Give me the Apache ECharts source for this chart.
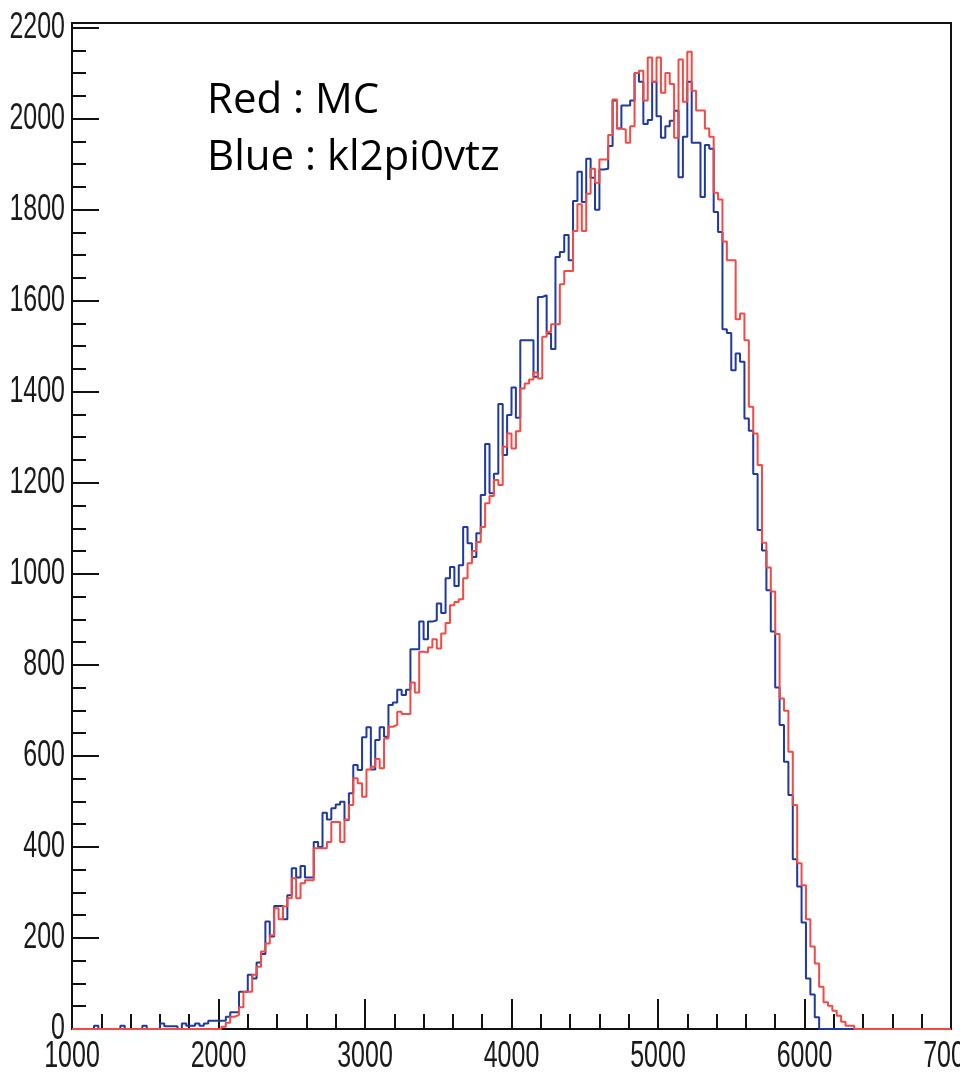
<!DOCTYPE html>
<html>
<head>
<meta charset="utf-8">
<title>histogram</title>
<script src="https://cdn.jsdelivr.net/npm/echarts@6/dist/echarts.min.js"></script>
<style>
  html, body { margin: 0; padding: 0; background: #fff; }
  #main { width: 960px; height: 1077px; }
</style>
</head>
<body>
<div id="main"></div>
<script>
// bins: 200 bins of width 30 from 1000 to 7000
const binStart = 1000
const binWidth = 30
const xTicks = [1000, 2000, 3000, 4000, 5000, 6000, 7000]
const yTicks = [0, 200, 400, 600, 800, 1000, 1200, 1400, 1600, 1800, 2000, 2200]

// Blue : kl2pi0vtz
const blueCounts = [
  0, 0, 0, 0, 0, 7, 0, 0, 0, 0,
  0, 7, 0, 0, 0, 0, 7, 0, 0, 0,
  12, 6, 6, 6, 0, 12, 7, 7, 12, 7,
  12, 18, 18, 18, 18, 27, 37, 37, 82, 82,
  119, 111, 146, 165, 236, 203, 270, 270, 241, 294,
  353, 333, 358, 333, 333, 411, 400, 475, 460, 485,
  493, 499, 459, 518, 580, 569, 641, 663, 570, 635,
  663, 642, 712, 717, 745, 734, 745, 834, 834, 895,
  856, 895, 898, 935, 914, 990, 1015, 973, 1019, 1103,
  1067, 1037, 1089, 1173, 1285, 1177, 1220, 1373, 1261, 1349,
  1409, 1343, 1513, 1513, 1513, 1433, 1608, 1612, 1528, 1494,
  1696, 1707, 1744, 1689, 1819, 1883, 1817, 1912, 1870, 1800,
  1888, 1890, 1940, 2040, 1978, 2029, 2029, 2040, 2100, 2081,
  1988, 1997, 2081, 2005, 1958, 1983, 1995, 2017, 1871, 1960,
  2081, 1947, 1947, 1828, 1942, 1934, 1795, 1751, 1537, 1529,
  1447, 1484, 1466, 1341, 1314, 1219, 1096, 1051, 964, 873,
  750, 668, 587, 514, 373, 313, 234, 111, 76, 26,
  0, 0, 0, 0, 0, 0, 0, 0, 0, 0,
  0, 0, 0, 0, 0, 0, 0, 0, 0, 0,
  0, 0, 0, 0, 0, 0, 0, 0, 0, 0
]

// Red : MC
const redCounts = [
  0, 0, 0, 0, 0, 0, 0, 0, 0, 0,
  0, 0, 0, 0, 0, 0, 0, 0, 0, 0,
  0, 0, 0, 0, 0, 0, 0, 0, 0, 0,
  0, 0, 0, 0, 5, 14, 27, 31, 48, 82,
  82, 119, 137, 170, 188, 206, 265, 241, 269, 287,
  331, 287, 320, 327, 327, 397, 397, 397, 411, 455,
  455, 411, 460, 492, 551, 540, 510, 570, 576, 593,
  573, 638, 664, 668, 697, 692, 692, 761, 739, 829,
  827, 838, 856, 836, 869, 892, 931, 938, 944, 990,
  1023, 1050, 1070, 1103, 1155, 1171, 1206, 1195, 1279, 1308,
  1275, 1313, 1407, 1418, 1427, 1442, 1429, 1521, 1532, 1548,
  1548, 1636, 1665, 1665, 1753, 1812, 1753, 1835, 1890, 1859,
  1910, 1910, 1964, 2042, 1978, 1976, 1947, 1983, 2100, 2105,
  2040, 2134, 2081, 2134, 2057, 2100, 2076, 1958, 2130, 2037,
  2147, 2061, 2018, 2018, 1978, 1960, 1837, 1822, 1730, 1689,
  1689, 1559, 1572, 1513, 1367, 1308, 1239, 1068, 1014, 961,
  868, 726, 699, 609, 492, 364, 316, 241, 181, 144,
  93, 59, 51, 40, 29, 16, 7, 7, 0, 0,
  0, 0, 0, 0, 0, 0, 0, 0, 0, 0,
  0, 0, 0, 0, 0, 0, 0, 0, 0, 0
]

const legendLines = ['Red : MC', 'Blue : kl2pi0vtz']

// ROOT style tick labels: tall narrow digits
const labelFont = '25px "Liberation Sans", Arial, sans-serif'
const labelStretch = 1.5

// histogram -> step points (left edge of every bin, plus the closing right edge)
function toSteps(counts) {
  const pts = counts.map((v, i) => [binStart + i * binWidth, v])
  pts.push([binStart + counts.length * binWidth, counts[counts.length - 1]])
  return pts
}

const chart = echarts.init(document.getElementById('main'))

chart.setOption({
  animation: false,
  backgroundColor: '#fff',
  grid: {
    left: 72,
    right: 9,
    top: 23,
    bottom: 48,
    show: true,
    borderColor: '#111',
    borderWidth: 2,
    containLabel: false,
    outerBoundsMode: 'none'
  },
  xAxis: {
    type: 'value',
    min: xTicks[0],
    max: xTicks[xTicks.length - 1],
    interval: 1000,
    axisLine: { show: true, lineStyle: { color: '#111', width: 2 } },
    axisTick: { show: true, inside: true, length: 30, lineStyle: { color: '#111', width: 2 } },
    minorTick: { show: true, splitNumber: 5, length: 15, lineStyle: { color: '#111', width: 2 } },
    splitLine: { show: false },
    axisLabel: { show: false }
  },
  yAxis: {
    type: 'value',
    min: yTicks[0],
    max: 2210,
    interval: 200,
    axisLine: { show: true, lineStyle: { color: '#111', width: 2 } },
    axisTick: { show: true, inside: true, length: 27, lineStyle: { color: '#111', width: 2 } },
    minorTick: { show: true, splitNumber: 4, length: 14, lineStyle: { color: '#111', width: 2 } },
    splitLine: { show: false },
    axisLabel: { show: false }
  },
  series: [
    {
      name: 'kl2pi0vtz',
      type: 'line',
      step: 'end',
      symbol: 'none',
      data: toSteps(blueCounts),
      lineStyle: { color: '#1f3a9e', width: 2 }
    },
    {
      name: 'MC',
      type: 'line',
      step: 'end',
      symbol: 'none',
      data: toSteps(redCounts),
      lineStyle: { color: '#f24a44', width: 2 }
    }
  ]
})

// tick labels placed with the chart's own axis scales, stretched vertically
const graphics = []
xTicks.forEach(v => {
  const p = chart.convertToPixel({ gridIndex: 0 }, [v, 0])
  graphics.push({
    type: 'text',
    x: p[0],
    y: p[1] + 27.5,
    scaleY: labelStretch,
    style: { text: String(v), x: 0, y: 0, align: 'center', verticalAlign: 'middle', font: labelFont, fill: '#1a1a1a' }
  })
})
yTicks.forEach(v => {
  const p = chart.convertToPixel({ gridIndex: 0 }, [xTicks[0], v])
  graphics.push({
    type: 'text',
    x: p[0] - 7,
    y: p[1],
    scaleY: labelStretch,
    style: { text: String(v), x: 0, y: 0, align: 'right', verticalAlign: 'middle', font: labelFont, fill: '#1a1a1a' }
  })
})
legendLines.forEach((t, i) => {
  graphics.push({
    type: 'text',
    left: 207,
    top: 80 + i * 57,
    style: { text: t, fill: '#000', font: '42px "Open Sans", "Noto Sans", sans-serif' }
  })
})

chart.setOption({ graphic: graphics })
</script>
</body>
</html>
